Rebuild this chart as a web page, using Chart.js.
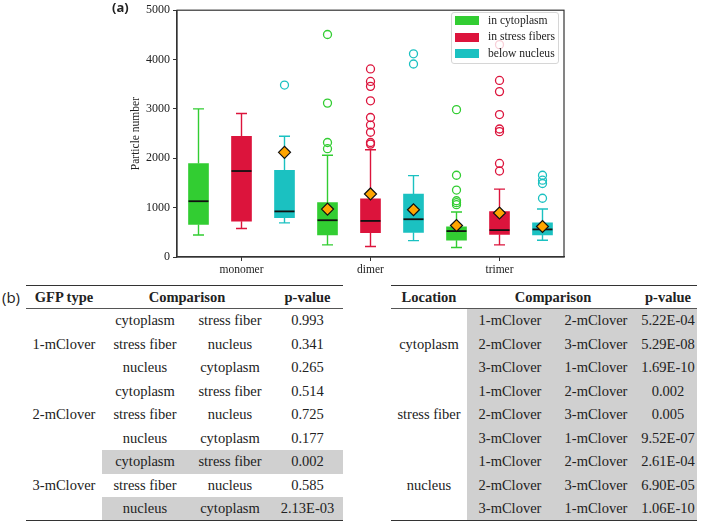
<!DOCTYPE html>
<html><head><meta charset="utf-8">
<script src="https://cdn.jsdelivr.net/npm/chart.js@4.4.1/dist/chart.umd.min.js"></script>
<style>
html,body{margin:0;padding:0;background:#fff;}
body{width:708px;height:522px;position:relative;overflow:hidden;font-family:"Liberation Serif","Times New Roman",serif;color:#222;}
#chartWrap{position:absolute;left:0;top:0;width:708px;height:282px;}
.panel{position:absolute;font-family:"Open Sans",sans-serif;color:#222;}
#legend{position:absolute;left:451px;top:12px;width:108px;height:52px;background:rgba(255,255,255,0.8);border:1px solid #d6d6d6;border-radius:3px;box-sizing:border-box;}
.lg-row{position:absolute;left:3px;height:12px;display:flex;align-items:center;}
.lg-sw{width:24px;height:9px;margin-right:9px;}
.lg-tx{font-size:11.6px;white-space:nowrap;line-height:12px;}
.tbl{position:absolute;display:grid;font-size:14.5px;}
.cell{display:flex;align-items:center;justify-content:center;white-space:nowrap;}
.hd{font-weight:bold;}
.shade{background:#d0d0d0;}
.rule{position:absolute;}
</style></head>
<body>
<div id="chartWrap"><canvas id="c" width="708" height="282"></canvas></div>
<div class="panel" style="left:112px;top:-1px;font-size:13px;font-weight:bold;line-height:16px;">(a)</div>
<div id="legend"></div>
<div class="panel" style="left:2px;top:287px;font-size:15px;line-height:20px;">(b)</div>
<div id="tables"></div>
<script>
// ---------- chart data ----------
const categories = ['monomer', 'dimer', 'trimer'];
const seriesNames = ['in cytoplasm', 'in stress fibers', 'below nucleus'];
const seriesColors = ['#32cd32', '#dc143c', '#1bc1c1'];
const yTickValues = [0, 1000, 2000, 3000, 4000, 5000];

const cytoWhiskLo = [445, 246, 193];
const cytoQ1 = [658, 445, 339];
const cytoMed = [1130, 745, 525];
const cytoQ3 = [1895, 1104, 612];
const cytoWhiskHi = [3000, 2061, 911];
const cytoMean = [null, 971, 638];
const cytoOutliers = [[], [4508, 3118, 2320, 2194], [2985, 1656, 1356, 1140, 1100, 1060]];

const stressWhiskLo = [578, 213, 246];
const stressQ1 = [725, 492, 459];
const stressMed = [1742, 731, 545];
const stressQ3 = [2447, 1177, 918];
const stressWhiskHi = [2906, 2174, 1376];
const stressMean = [null, 1277, 891];
const stressOutliers = [[], [3810, 3557, 3457, 3165, 2826, 2673, 2527, 2320, 2287], [4302, 3577, 3351, 2886, 2593, 2540, 1895, 1742]];

const nucWhiskLo = [691, 332, 339];
const nucQ1 = [798, 499, 445];
const nucMed = [924, 765, 559];
const nucQ3 = [1755, 1277, 691];
const nucWhiskHi = [2447, 1649, 971];
const nucMean = [2121, 957, 618];
const nucOutliers = [[3484], [4116, 3910], [1656, 1556, 1489, 1190]];

// ---------- table data ----------
const leftHeaders = ['GFP type', 'Comparison', 'p-value'];
const leftGroups = ['1-mClover', '2-mClover', '3-mClover'];
const leftCompA = ['cytoplasm', 'stress fiber', 'nucleus', 'cytoplasm', 'stress fiber', 'nucleus', 'cytoplasm', 'stress fiber', 'nucleus'];
const leftCompB = ['stress fiber', 'nucleus', 'cytoplasm', 'stress fiber', 'nucleus', 'cytoplasm', 'stress fiber', 'nucleus', 'cytoplasm'];
const leftP = ['0.993', '0.341', '0.265', '0.514', '0.725', '0.177', '0.002', '0.585', '2.13E-03'];
const leftShaded = [false, false, false, false, false, false, true, false, true];

const rightHeaders = ['Location', 'Comparison', 'p-value'];
const rightGroups = ['cytoplasm', 'stress fiber', 'nucleus'];
const rightCompA = ['1-mClover', '2-mClover', '3-mClover', '1-mClover', '2-mClover', '3-mClover', '1-mClover', '2-mClover', '3-mClover'];
const rightCompB = ['2-mClover', '3-mClover', '1-mClover', '2-mClover', '3-mClover', '1-mClover', '2-mClover', '3-mClover', '1-mClover'];
const rightP = ['5.22E-04', '5.29E-08', '1.69E-10', '0.002', '0.005', '9.52E-07', '2.61E-04', '6.90E-05', '1.06E-10'];
const rightShaded = [true, true, true, true, true, true, true, true, true];

// ---------- build chart ----------
const SERIF = '"Liberation Serif", "Times New Roman", serif';
const stats = [
  {lo: cytoWhiskLo, q1: cytoQ1, med: cytoMed, q3: cytoQ3, hi: cytoWhiskHi, mean: cytoMean, out: cytoOutliers},
  {lo: stressWhiskLo, q1: stressQ1, med: stressMed, q3: stressQ3, hi: stressWhiskHi, mean: stressMean, out: stressOutliers},
  {lo: nucWhiskLo, q1: nucQ1, med: nucMed, q3: nucQ3, hi: nucWhiskHi, mean: nucMean, out: nucOutliers}
];
const nS = stats.length;
const slot = k => (k - (nS - 1) / 2) / nS;

const datasets = [];
stats.forEach((s, k) => {
  datasets.push({
    type: 'bar', label: seriesNames[k], xAxisID: 'x2',
    data: categories.map((c, i) => ({x: i + slot(k), y: [s.q1[i], s.q3[i]]})),
    backgroundColor: seriesColors[k], borderWidth: 0,
    boxStats: s, whiskerColor: seriesColors[k], order: 3,
    grouped: false, barThickness: 20
  });
});
stats.forEach((s, k) => {
  const pts = [];
  s.out.forEach((arr, i) => arr.forEach(v => pts.push({x: i + slot(k), y: v})));
  datasets.push({
    type: 'scatter', data: pts, xAxisID: 'x2', pointStyle: 'circle', pointRadius: 4,
    borderColor: seriesColors[k], backgroundColor: 'rgba(0,0,0,0)', borderWidth: 1.3, order: 2
  });
});
stats.forEach((s, k) => {
  const pts = [];
  s.mean.forEach((v, i) => { if (v !== null) pts.push({x: i + slot(k), y: v}); });
  datasets.push({
    type: 'scatter', data: pts, xAxisID: 'x2', pointStyle: 'rectRot', pointRadius: 6,
    backgroundColor: '#ffa500', borderColor: '#111', borderWidth: 1.2, order: 1
  });
});

const boxParts = {
  id: 'boxParts',
  afterDatasetDraw(chart, args) {
    const ds = chart.data.datasets[args.index];
    if (!ds.boxStats) return;
    const s = ds.boxStats, y = chart.scales.y, ctx = chart.ctx;
    args.meta.data.forEach((bar, i) => {
      const x = bar.x, w = bar.width;
      const pLo = y.getPixelForValue(s.lo[i]), pQ1 = y.getPixelForValue(s.q1[i]);
      const pQ3 = y.getPixelForValue(s.q3[i]), pHi = y.getPixelForValue(s.hi[i]);
      const pMed = y.getPixelForValue(s.med[i]);
      ctx.save();
      ctx.strokeStyle = ds.whiskerColor; ctx.lineWidth = 1.4;
      ctx.beginPath();
      ctx.moveTo(x, pQ3); ctx.lineTo(x, pHi);
      ctx.moveTo(x - w / 4 - 0.5, pHi); ctx.lineTo(x + w / 4 + 0.5, pHi);
      ctx.moveTo(x, pQ1); ctx.lineTo(x, pLo);
      ctx.moveTo(x - w / 4 - 0.5, pLo); ctx.lineTo(x + w / 4 + 0.5, pLo);
      ctx.stroke();
      ctx.strokeStyle = '#111'; ctx.lineWidth = 1.8;
      ctx.beginPath();
      ctx.moveTo(x - w / 2, pMed); ctx.lineTo(x + w / 2, pMed);
      ctx.stroke();
      ctx.restore();
    });
  }
};
const frame = {
  id: 'frame',
  beforeDatasetsDraw(chart) {
    const a = chart.chartArea, ctx = chart.ctx;
    ctx.save(); ctx.strokeStyle = '#333'; ctx.lineWidth = 1.2;
    ctx.strokeRect(a.left, a.top, a.right - a.left, a.bottom - a.top);
    ctx.restore();
  }
};

new Chart(document.getElementById('c'), {
  type: 'bar',
  data: {labels: categories, datasets},
  options: {
    responsive: false, animation: false, events: [],
    layout: {padding: {left: 129, right: 144, top: 7, bottom: 0}},
    plugins: {legend: {display: false}, tooltip: {enabled: false}},
    scales: {
      x: {
        type: 'category', offset: true,
        grid: {display: true, drawOnChartArea: false, offset: false, tickLength: 4, color: '#333', lineWidth: 1},
        border: {display: true, color: '#333', width: 1.2},
        ticks: {font: {family: SERIF, size: 11.5}, color: '#222', padding: 2.5, maxRotation: 0},
        afterFit(s) { s.height = 25; }
      },
      x2: {type: 'linear', display: false, offset: false, min: -0.5, max: 2.5, grid: {offset: false}},
      y: {
        min: 0, max: 5000,
        afterBuildTicks(s) { s.ticks = yTickValues.map(v => ({value: v})); },
        ticks: {font: {family: SERIF, size: 12}, color: '#222', padding: 3, callback: v => String(v)},
        title: {display: true, text: 'Particle number', font: {family: SERIF, size: 11.5}, color: '#222', padding: 0},
        grid: {display: true, drawOnChartArea: false, tickLength: 4, color: '#333', lineWidth: 1},
        border: {display: true, color: '#333', width: 1.2},
        afterFit(s) { s.width = 48; }
      }
    }
  },
  plugins: [boxParts, frame]
});

// ---------- legend ----------
const lg = document.getElementById('legend');
const lgCenters = [8.5, 25, 41.5];
seriesNames.forEach((n, k) => {
  const r = document.createElement('div');
  r.className = 'lg-row';
  r.style.top = (lgCenters[k] - 6 - 1) + 'px';
  r.innerHTML = '<div class="lg-sw" style="background:' + seriesColors[k] + '"></div><div class="lg-tx">' + n + '</div>';
  lg.appendChild(r);
});

// ---------- tables ----------
function buildTable(left, cols, headers, groups, a, b, p, shaded) {
  const host = document.getElementById('tables');
  const width = cols.reduce((s, v) => s + v, 0);
  const g = document.createElement('div');
  g.className = 'tbl';
  g.style.left = left + 'px';
  g.style.top = '285.5px';
  g.style.width = width + 'px';
  g.style.gridTemplateColumns = cols.map(c => c + 'px').join(' ');
  g.style.gridTemplateRows = '23.5px repeat(' + p.length + ', 23.5px)';
  let html = '';
  html += '<div class="cell hd" style="grid-row:1;grid-column:1">' + headers[0] + '</div>';
  html += '<div class="cell hd" style="grid-row:1;grid-column:2 / span 2">' + headers[1] + '</div>';
  html += '<div class="cell hd" style="grid-row:1;grid-column:4">' + headers[2] + '</div>';
  const per = p.length / groups.length;
  groups.forEach((gr, j) => {
    html += '<div class="cell" style="grid-row:' + (2 + j * per) + ' / span ' + per + ';grid-column:1">' + gr + '</div>';
  });
  p.forEach((v, i) => {
    const cls = shaded[i] ? 'cell shade' : 'cell';
    html += '<div class="' + cls + '" style="grid-row:' + (i + 2) + ';grid-column:2">' + a[i] + '</div>';
    html += '<div class="' + cls + '" style="grid-row:' + (i + 2) + ';grid-column:3">' + b[i] + '</div>';
    html += '<div class="' + cls + '" style="grid-row:' + (i + 2) + ';grid-column:4">' + v + '</div>';
  });
  g.innerHTML = html;
  host.appendChild(g);
  const rules = [[284.5, 1.6, '#333'], [307.8, 1, '#555'], [519.8, 1.6, '#333']];
  rules.forEach(r => {
    const d = document.createElement('div');
    d.className = 'rule';
    d.style.cssText = 'left:' + left + 'px;top:' + r[0] + 'px;width:' + width + 'px;height:' + r[1] + 'px;background:' + r[2];
    host.appendChild(d);
  });
}
buildTable(26, [76, 86, 84, 71], leftHeaders, leftGroups, leftCompA, leftCompB, leftP, leftShaded);
buildTable(391, [76, 86, 86, 58], rightHeaders, rightGroups, rightCompA, rightCompB, rightP, rightShaded);
</script>
</body></html>
